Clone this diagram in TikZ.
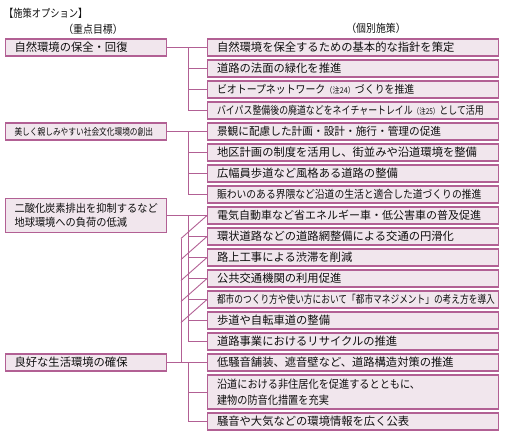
\documentclass[tikz,border=0pt]{standalone}
\usepackage{fontspec}
\setmainfont{Noto Sans CJK JP}
\usetikzlibrary{calc}
\definecolor{MV}{RGB}{178,96,148}
\definecolor{PK}{RGB}{241,230,237}
\definecolor{TX}{RGB}{15,15,15}
\newcommand{\chuki}[1]{{\fontsize{8}{8}\selectfont（注#1）}}

\begin{document}
\begin{tikzpicture}[x=1pt, y=-1pt,
  goal/.style={draw=MV, fill=PK, line width=1.1pt, anchor=west, text=TX,
               text width=143pt, inner xsep=9pt, inner ysep=0pt,
               minimum height=17pt, align=left, font=\fontsize{11.3}{14}\selectfont},
  act/.style={draw=MV, fill=PK, line width=1.1pt, anchor=west, text=TX,
              text width=272pt, inner xsep=9.5pt, inner ysep=0pt,
              minimum height=17pt, align=left, font=\fontsize{11.3}{14}\selectfont},
  narrow/.style={font={\fontsize{11}{14}\selectfont\addfontfeature{FakeStretch=#1}}},
  conn/.style={draw=MV, line width=0.9pt},
  head/.style={font={\fontsize{11}{12}\selectfont\addfontfeature{FakeStretch=0.9}},
               inner sep=0pt, text=TX}
]
\useasboundingbox (0,0) rectangle (505,434);

% Headings
\node[head, anchor=west, font={\fontsize{11}{12}\selectfont\addfontfeature{FakeStretch=0.84}}]
  (title) at (4,13) {【施策オプション】};
\node[head] (hgoal) at (93,29) {（重点目標）};
\node[head] (hact)  at (376,28) {（個別施策）};

% Goals
\node[goal] (g1) at (5,47.5)  {自然環境の保全・回復};
\node[goal, font={\fontsize{9.5}{14}\selectfont\addfontfeature{FakeStretch=0.81}}]
  (g2) at (5,131.5) {美しく親しみやすい社会文化環境の創出};
\node[goal, narrow=0.93, minimum height=34pt] (g3) at (5,215.5)
  {二酸化炭素排出を抑制するなど\\地球環境への負荷の低減};
\node[goal] (g4) at (5,362.5) {良好な生活環境の確保};

% Measures
\node[act] (r1)  at (207,47.5)  {自然環境を保全するための基本的な指針を策定};
\node[act] (r2)  at (207,68.5)  {道路の法面の緑化を推進};
\node[act, narrow=0.9] (r3)  at (207,89.5) {ビオトープネットワーク\chuki{24}づくりを推進};
\node[act, narrow=0.81] (r4) at (207,110.5) {バイパス整備後の廃道などをネイチャートレイル\chuki{25}として活用};
\node[act, narrow=0.97] (r5)  at (207,131.5) {景観に配慮した計画・設計・施行・管理の促進};
\node[act] (r6)  at (207,152.5) {地区計画の制度を活用し、街並みや沿道環境を整備};
\node[act] (r7)  at (207,173.5) {広幅員歩道など風格ある道路の整備};
\node[act, narrow=0.89] (r8) at (207,194.5) {賑わいのある界隈など沿道の生活と適合した道づくりの推進};
\node[act, font=\fontsize{11}{14}\selectfont] (r9) at (207,215.5) {電気自動車など省エネルギー車・低公害車の普及促進};
\node[act] (r10) at (207,236.5) {環状道路などの道路網整備による交通の円滑化};
\node[act] (r11) at (207,257.5) {路上工事による渋滞を削減};
\node[act] (r12) at (207,278.5) {公共交通機関の利用促進};
\node[act, narrow=0.79] (r13) at (207,299.5) {都市のつくり方や使い方において「都市マネジメント」の考え方を導入};
\node[act] (r14) at (207,320.5) {歩道や自転車道の整備};
\node[act] (r15) at (207,341.5) {道路事業におけるリサイクルの推進};
\node[act] (r16) at (207,362.5) {低騒音舗装、遮音壁など、道路構造対策の推進};
\node[act, minimum height=34pt,
      font={\fontsize{11.3}{16}\selectfont\addfontfeature{FakeStretch=0.9}}] (r17) at (207,392)
  {沿道における非住居化を促進するとともに、\\建物の防音化措置を充実};
\node[act] (r18) at (207,421.5) {騒音や大気などの環境情報を広く公表};

% Trunk lines
\coordinate (bx) at (188,0);
\coordinate (dx) at (181,0);

\draw[conn] (g1.east) -- (r1.west);
\draw[conn] (bx |- r1.west) |- (r4.west);
\foreach \k in {2,3}
  \draw[conn] (bx |- r\k.west) -- (r\k.west);

\draw[conn] (g2.east) -- (r5.west);
\draw[conn] (bx |- r5.west) |- (r8.west);
\foreach \k in {6,7}
  \draw[conn] (bx |- r\k.west) -- (r\k.west);

\draw[conn] (g3.east) -- (r9.west);
\draw[conn] (bx |- r9.west) |- (r15.west);
\foreach \k in {10,...,14}
  \draw[conn] (bx |- r\k.west) -- (r\k.west);

\draw[conn] (g4.east) -- (r16.west);
\draw[conn] (bx |- r16.west) |- (r18.west);
\draw[conn] (bx |- r17.west) -- (r17.west);
\draw[conn] (dx |- r16.west) -- ($(dx |- r9.west)+(0,23)$);
\foreach \k in {9,...,13}
  \draw[conn] ($(dx |- r\k.west)+(0,23)$) -- (r\k.west);
\end{tikzpicture}
\end{document}
